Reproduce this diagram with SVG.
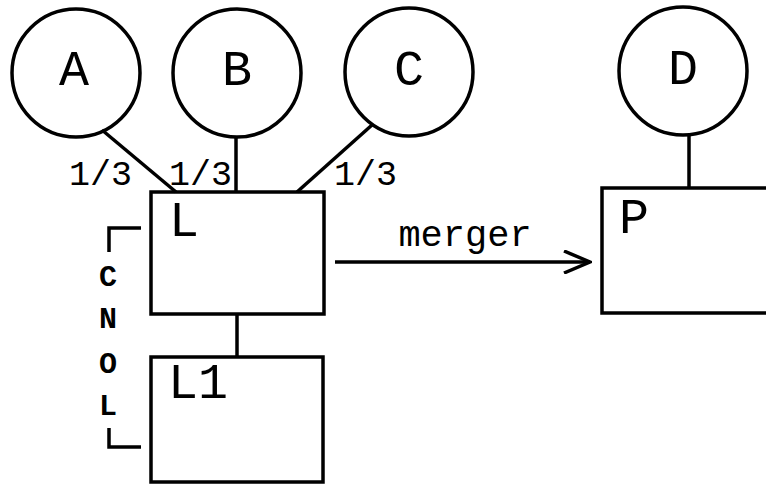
<svg xmlns="http://www.w3.org/2000/svg" width="766" height="485" viewBox="0 0 766 485">
<style>
.n{fill:none;stroke:#000;stroke-width:3.5}
.c{fill:none;stroke:#000;stroke-width:3.5}
.t{font-family:"Liberation Mono","Courier New",monospace;fill:#000}
.big{font-size:50px}
.lab{font-size:35px}
.v{font-size:30px;font-weight:bold}
</style>
<defs>
<marker id="ar" viewBox="0 0 30 24" refX="28" refY="12" markerWidth="30" markerHeight="24" markerUnits="userSpaceOnUse" orient="auto">
<path d="M2,1 L28,12 L2,23" fill="none" stroke="#000" stroke-width="3.5"/>
</marker>
</defs>
<rect width="766" height="485" fill="#fff"/>
<g id="connectors">
<line class="c" x1="102" y1="130" x2="176" y2="192"/>
<line class="c" x1="236" y1="137" x2="236" y2="192" stroke-width="2.5"/>
<line class="c" x1="372" y1="125" x2="297" y2="192"/>
<line class="c" x1="689" y1="135" x2="689" y2="188" stroke-width="2.5"/>
<line class="c" x1="237" y1="314" x2="237" y2="357"/>
<line class="c" x1="335" y1="262" x2="590" y2="262" marker-end="url(#ar)"/>
<text class="t lab" x="69" y="185">1/3</text>
<text class="t lab" x="169" y="185">1/3</text>
<text class="t lab" x="334" y="185">1/3</text>
<text class="t lab" x="465" y="246" text-anchor="middle" style="font-size:37px">merger</text>
</g>
<g id="A"><circle class="n" cx="76" cy="73" r="64"/><text class="t big" x="74" y="85" text-anchor="middle">A</text></g>
<g id="B"><circle class="n" cx="237" cy="73" r="64"/><text class="t big" x="237" y="85" text-anchor="middle">B</text></g>
<g id="C"><circle class="n" cx="409" cy="72" r="64"/><text class="t big" x="409" y="85" text-anchor="middle">C</text></g>
<g id="D"><circle class="n" cx="683" cy="71" r="64"/><text class="t big" x="683" y="84" text-anchor="middle">D</text></g>
<g id="L"><rect class="n" x="151" y="192" width="173" height="122"/><text class="t big" x="184" y="236" text-anchor="middle">L</text></g>
<g id="L1"><rect class="n" x="151" y="357" width="172" height="125"/><text class="t big" x="198" y="398" text-anchor="middle">L1</text></g>
<g id="P"><rect class="n" x="602" y="188" width="170" height="125"/><text class="t big" x="634" y="233" text-anchor="middle">P</text></g>
<g id="CNOL">
<path class="c" d="M141,228 H109 V252" stroke-width="2.5"/>
<path class="c" d="M109,428 V447 H141" stroke-width="2.5"/>
<text class="t v" x="108" y="286" text-anchor="middle">C</text>
<text class="t v" x="108" y="328" text-anchor="middle">N</text>
<text class="t v" x="108" y="373" text-anchor="middle">O</text>
<text class="t v" x="108" y="415" text-anchor="middle">L</text>
</g>
</svg>
